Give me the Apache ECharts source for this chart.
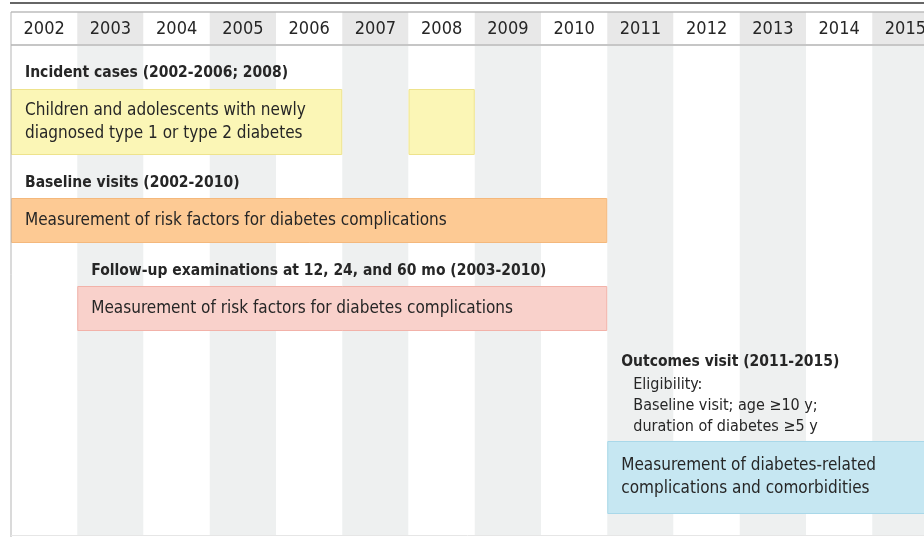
<!DOCTYPE html>
<html lang="en">
<head>
<meta charset="utf-8">
<title>Study timeline</title>
<script src="https://cdn.jsdelivr.net/npm/echarts@6/dist/echarts.min.js"></script>
<style>
  html, body { margin: 0; padding: 0; background: #fff; }
  #main { width: 924px; height: 537px; }
</style>
</head>
<body>
<div id="main"></div>
<script>
// data
var years = [2002, 2003, 2004, 2005, 2006, 2007, 2008, 2009, 2010, 2011, 2012, 2013, 2014, 2015];
var barStart = [2002, 2008, 2002, 2003, 2011];
var barEnd = [2007, 2009, 2011, 2011, 2016];
var barTitle = [
    'Incident cases (2002-2006; 2008)',
    '',
    'Baseline visits (2002-2010)',
    'Follow-up examinations at 12, 24, and 60 mo (2003-2010)',
    'Outcomes visit (2011-2015)'
];
var barText = [
    'Children and adolescents with newly\ndiagnosed type 1 or type 2 diabetes',
    '',
    'Measurement of risk factors for diabetes complications',
    'Measurement of risk factors for diabetes complications',
    'Measurement of diabetes-related\ncomplications and comorbidities'
];
var barNote = ['', '', '', '', 'Eligibility:\nBaseline visit; age \u226510 y;\nduration of diabetes \u22655 y'];

// layout (vertical lanes, in px below the header top)
var lanes = [
    {top: 77, bottom: 143, title: 61, fill: '#fbf6b6', stroke: '#eee38c'},
    {top: 77, bottom: 143, title: 61, fill: '#fbf6b6', stroke: '#eee38c'},
    {top: 186, bottom: 231, title: 171, fill: '#fdca94', stroke: '#f4b87c'},
    {top: 274, bottom: 319, title: 259, fill: '#f9d1cb', stroke: '#f2b2a9'},
    {top: 429, bottom: 502, title: 350, note: 362, fill: '#c6e7f2', stroke: '#a9d8e9'}
];
var FONT = '"Liberation Sans Narrow", "DejaVu Sans Condensed", Roboto, sans-serif';
var TXT = '#262626';
var HEAD = 33, FULL = 523;
var COL = 66.25; // px per year; the 2015 column runs off the right edge
var X_MAX = 2002 + 913 / COL;

var chart = echarts.init(document.getElementById('main'), null, {renderer: 'canvas'});

function renderYear(params, api) {
    var y = api.value(0);
    var p0 = api.coord([y, 0]);
    var p1 = api.coord([y + 1, HEAD]);
    var p2 = api.coord([y + 1, FULL]);
    var shaded = y % 2 === 1;
    return {
        type: 'group',
        children: [
            {type: 'rect', shape: {x: p0[0], y: p1[1], width: p1[0] - p0[0], height: p2[1] - p1[1]},
             style: {fill: shaded ? '#eef0f0' : '#fff'}},
            {type: 'rect', shape: {x: p0[0], y: p0[1], width: p1[0] - p0[0], height: p1[1] - p0[1]},
             style: {fill: shaded ? '#e8e8e8' : '#fff'}},
            {type: 'text', style: {text: String(y), x: (p0[0] + p1[0]) / 2, y: (p0[1] + p1[1]) / 2 + 1,
             align: 'center', verticalAlign: 'middle', fontSize: 18, fontFamily: FONT, fill: TXT}}
        ]
    };
}

function renderBar(params, api) {
    var i = params.dataIndex;
    var L = lanes[i];
    var a = api.coord([api.value(0), L.top]);
    var b = api.coord([api.value(1), L.bottom]);
    var children = [
        {type: 'rect', shape: {x: a[0] + 0.5, y: a[1] + 0.5, width: b[0] - a[0] - 1, height: b[1] - a[1] - 1},
         style: {fill: L.fill, stroke: L.stroke, lineWidth: 1}}
    ];
    if (barText[i]) {
        children.push({type: 'text', style: {text: barText[i], x: a[0] + 14, y: (a[1] + b[1]) / 2,
            align: 'left', verticalAlign: 'middle', fontSize: 17, lineHeight: 23, fontFamily: FONT, fill: TXT}});
    }
    if (barTitle[i]) {
        var t = api.coord([api.value(0), L.title]);
        children.push({type: 'text', style: {text: barTitle[i], x: t[0] + 14, y: t[1],
            align: 'left', verticalAlign: 'middle', fontSize: 15.5, fontWeight: 'bold', fontFamily: FONT, fill: TXT}});
    }
    if (barNote[i]) {
        var n = api.coord([api.value(0), L.note]);
        children.push({type: 'text', style: {text: barNote[i], x: n[0] + 26, y: n[1],
            align: 'left', verticalAlign: 'top', fontSize: 16, lineHeight: 21, fontFamily: FONT, fill: TXT}});
    }
    return {type: 'group', children: children};
}

chart.setOption({
    animation: false,
    grid: {left: 11, top: 12, right: 0, height: 523},
    xAxis: {type: 'value', min: 2002, max: X_MAX, show: false},
    yAxis: {type: 'value', min: 0, max: FULL, inverse: true, show: false},
    graphic: [
        {type: 'line', shape: {x1: 10, y1: 3, x2: 924, y2: 3}, style: {stroke: '#333', lineWidth: 1.5}, z: 10},
        {type: 'line', shape: {x1: 11, y1: 12, x2: 924, y2: 12}, style: {stroke: '#bdbdbd', lineWidth: 1.5}, z: 10},
        {type: 'line', shape: {x1: 11, y1: 45, x2: 924, y2: 45}, style: {stroke: '#c6c6c6', lineWidth: 2}, z: 10},
        {type: 'line', shape: {x1: 11, y1: 12, x2: 11, y2: 537}, style: {stroke: '#b5b5b5', lineWidth: 1}, z: 10},
        {type: 'line', shape: {x1: 11, y1: 535.5, x2: 924, y2: 535.5}, style: {stroke: '#e6e6e6', lineWidth: 1}, z: 10}
    ],
    series: [
        {type: 'custom', renderItem: renderYear, clip: false, z: 1,
         data: years.map(function (y) { return [y]; })},
        {type: 'custom', renderItem: renderBar, clip: false, z: 2,
         data: barStart.map(function (s, i) { return [s, barEnd[i]]; })}
    ]
});
</script>
</body>
</html>
